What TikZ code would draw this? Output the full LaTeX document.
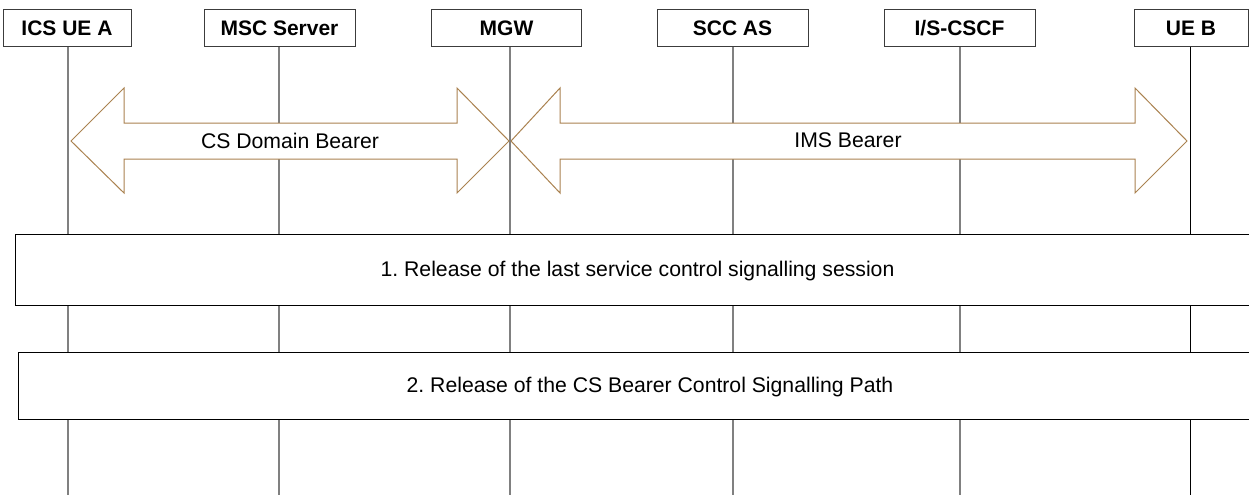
\documentclass[tikz,border=0pt]{standalone}
\usepackage{fontspec}
\setmainfont{Liberation Sans}
\frenchspacing
\definecolor{tan}{RGB}{170,130,80}
\definecolor{lifegray}{RGB}{128,128,128}
\definecolor{hdrline}{RGB}{60,60,60}
\tikzset{
  hdr/.style={draw=hdrline, line width=1pt, fill=white, minimum height=37pt, inner sep=0pt,
              font=\fontsize{21}{25}\selectfont\bfseries},
  life/.style={draw=lifegray, line width=1.2pt},
  lifeblk/.style={draw=black, line width=0.9pt},
  bearer/.style={draw=tan, line width=1pt, fill=white},
  lbl/.style={inner sep=0pt, font=\fontsize{21.2}{25}\selectfont},
  stepbox/.style={draw=black, line width=1pt, fill=white, inner sep=0pt,
                  text height=19.2pt, text depth=4.4pt,
                  font=\fontsize{21.2}{25}\selectfont}
}
\begin{document}
\begin{tikzpicture}[x=1pt,y=-1pt]
\clip (0,0) rectangle (1249,495);
\fill[white] (0,0) rectangle (1249,495);
% header boxes
\node[hdr, minimum width=128pt] (ue) at (67,28.5) {ICS UE A};
\node[hdr, minimum width=151pt] (msc) at (279.5,28.5) {MSC Server};
\node[hdr, minimum width=150pt] (mgw) at (506.5,28.5) {MGW};
\node[hdr, minimum width=151pt] (scc) at (732.5,28.5) {SCC AS};
\node[hdr, minimum width=151pt] (cscf) at (959.5,28.5) {I/S-CSCF};
\node[hdr, minimum width=114pt] (ueb) at (1191,28.5) {UE B};
% lifeline ends
\coordinate (ueE) at (68,495);
\coordinate (mscE) at (279,495);
\coordinate (mgwE) at (510,495);
\coordinate (sccE) at (733,495);
\coordinate (cscfE) at (960,495);
\coordinate (uebE) at (1190,495);
\draw[life] (ueE |- ue.south) -- (ueE);
\draw[life] (mscE |- msc.south) -- (mscE);
\draw[life] (mgwE |- mgw.south) -- (mgwE);
\draw[life] (sccE |- scc.south) -- (sccE);
\draw[life] (cscfE |- cscf.south) -- (cscfE);
\draw[lifeblk] (uebE |- ueb.south) -- (uebE);
% bearers
\draw[bearer] (71,141) -- (124,88) -- (124,123) -- (457,123) -- (457,88) -- (509,141)
  -- (457,193) -- (457,159) -- (124,159) -- (124,193) -- cycle;
\node[lbl] (csb) at (290,140.5) {CS Domain Bearer};
\draw[bearer] (511,141) -- (560,88) -- (560,123) -- (1135,123) -- (1135,88) -- (1187,141)
  -- (1135,193) -- (1135,159) -- (560,159) -- (560,193) -- cycle;
\node[lbl] (imsb) at (848,140.5) {IMS Bearer};
% step boxes
\node[stepbox, minimum width=1245pt, minimum height=71pt] (s1) at (637.5,269.5)
  {1. Release of the last service control signalling session};
\node[stepbox, minimum width=1264pt, minimum height=67pt] (s2) at (650,385.5)
  {2. Release of the CS Bearer Control Signalling Path};
\end{tikzpicture}
\end{document}
